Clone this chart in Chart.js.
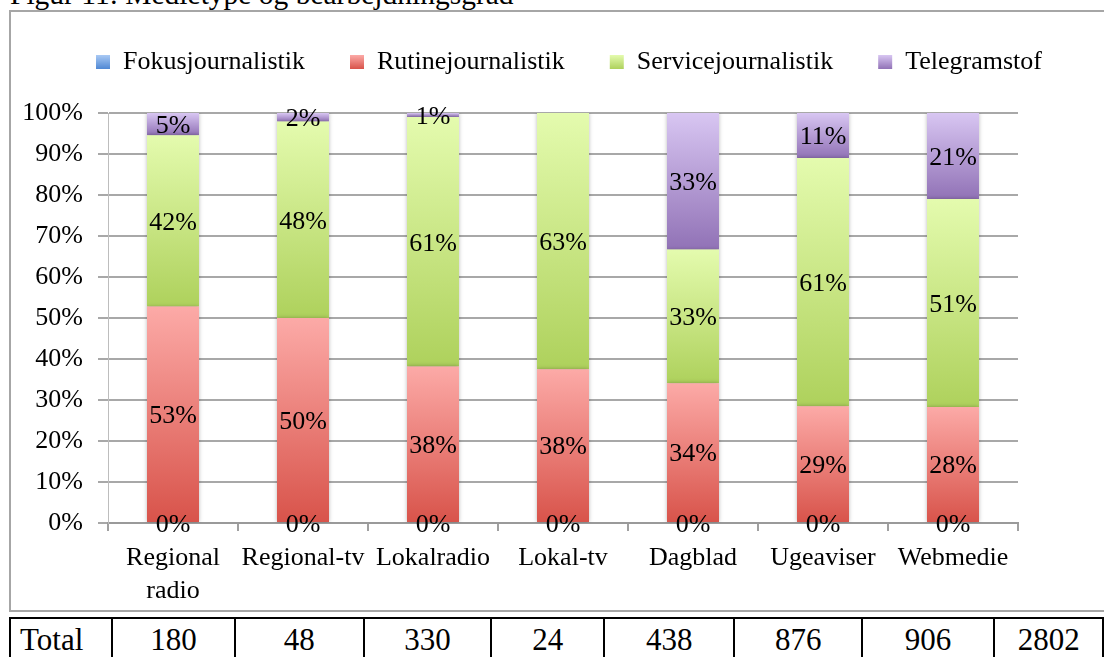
<!DOCTYPE html>
<html><head><meta charset="utf-8">
<script src="https://cdn.jsdelivr.net/npm/chart.js@4"></script>
<style>
html,body{margin:0;padding:0;background:#fff;overflow:hidden;width:1104px;height:657px;}
#title{position:absolute;left:10px;top:-23px;font:29.5px "Liberation Serif";white-space:nowrap;line-height:34px;color:#000}
#frame{position:absolute;left:9px;top:10px;width:1200px;height:598px;border:2px solid #a6a6a6;}
#wrap{position:absolute;left:11px;top:12px;width:1093px;height:598px;}
#tot{position:absolute;left:9px;top:617px;border-collapse:collapse;font:31px "Liberation Serif";table-layout:fixed;color:#000}
#tot td{border:2px solid #000;height:48px;text-align:center;vertical-align:top;padding:5px 0 0 0;line-height:32px;box-sizing:border-box}
#tot td.first{text-align:left;padding-left:9px}
</style>
</head><body>
<div id="title">Figur 11: Medietype og bearbejdningsgrad</div>
<div id="frame"></div>
<div id="wrap"><canvas id="c" width="1093" height="598"></canvas></div>
<table id="tot"><tr id="totrow"></tr></table>
<script>
// ---- data ----
const categories = [['Regional','radio'],'Regional-tv','Lokalradio','Lokal-tv','Dagblad','Ugeaviser','Webmedie'];
const seriesNames = ['Fokusjournalistik','Rutinejournalistik','Servicejournalistik','Telegramstof'];
const fokus    = [0, 0, 0, 0, 0, 0, 0];
const rutine   = [52.8, 50.0, 38.2, 37.5, 34.1, 28.5, 28.3];
const service  = [41.8, 47.9, 60.8, 62.5, 32.6, 60.5, 50.7];
const telegram = [5.4, 2.1, 1.0, null, 33.3, 11.0, 21.0];
const yTickValues = [0,10,20,30,40,50,60,70,80,90,100];
const totalLabel = 'Total';
const totals = [180, 48, 330, 24, 438, 876, 906];
const grandTotal = 2802;

// ---- styling ----
const seriesData = [fokus, rutine, service, telegram];
const gradStops = [['#a9c9f4','#4f88d4'],['#fcaaa7','#d8534a'],['#e4fbae','#aed15c'],['#d8c6f2','#9172b6']];
const FONT = '"Liberation Serif"';
const FS = 26;

function makeBg(d){
  return function(c){
    const chart = c.chart, ctx = chart.ctx, top = gradStops[d][0], bot = gradStops[d][1];
    const ys = chart.scales && chart.scales.y;
    const i = c.dataIndex;
    if (!ys || i === undefined) return bot;
    let base = 0;
    for (let k = 0; k < d; k++) base += (seriesData[k][i] || 0);
    const v = seriesData[d][i] || 0;
    const y1 = ys.getPixelForValue(base + v), y2 = ys.getPixelForValue(base);
    if (!isFinite(y1) || !isFinite(y2) || y2 - y1 < 0.5) return bot;
    const g = ctx.createLinearGradient(0, y1, 0, y2);
    g.addColorStop(0, top); g.addColorStop(1, bot);
    return g;
  };
}

const LEG_PAD = 45, LEG_X = 85, LEG_TEXT_Y = 50, PLOT_TOP = 101, BOX = 14;

const legendFix = {
  id: 'legendFix',
  beforeLayout(chart){
    const lg = chart.legend;
    if (lg && !lg.__patched){
      const f = lg.fit;
      lg.fit = function(){
        const mw = this.maxWidth;
        this.maxWidth = 4000;
        f.call(this);
        this.maxWidth = mw;
        this.width = mw;
        this.height = PLOT_TOP;
      };
      lg.__patched = true;
    }
  },
  afterLayout(chart){
    const lg = chart.legend;
    if (!lg || !lg.lineWidths) return;
    const W = lg.lineWidths[0];
    lg.top = LEG_TEXT_Y - FS/2 - LEG_PAD;
    lg.left = 0;
    lg.right = 2*LEG_X - LEG_PAD + W;
  }
};

const barDeco = {
  id: 'barDeco',
  beforeDatasetsDraw(chart){
    const ctx = chart.ctx;
    ctx.save();
    ctx.shadowColor = 'rgba(0,0,0,0.28)';
    ctx.shadowBlur = 4;
    ctx.shadowOffsetX = 0;
    ctx.shadowOffsetY = 0;
  },
  afterDatasetsDraw(chart){
    const ctx = chart.ctx;
    ctx.restore();
    ctx.save();
    ctx.font = FS + 'px ' + FONT;
    ctx.fillStyle = '#000';
    ctx.textAlign = 'center';
    ctx.textBaseline = 'middle';
    chart.data.datasets.forEach((ds, d) => {
      const meta = chart.getDatasetMeta(d);
      meta.data.forEach((el, i) => {
        const v = ds.data[i];
        if (v === null || v === undefined) return;
        ctx.fillText(Math.round(v) + '%', el.x, (el.y + el.base) / 2 + 2);
      });
    });
    ctx.restore();
  }
};

const datasets = seriesNames.map((name, d) => ({
  label: name,
  data: seriesData[d],
  backgroundColor: makeBg(d),
  borderWidth: 0,
  categoryPercentage: 1.0,
  barPercentage: 0.4
}));

new Chart(document.getElementById('c'), {
  type: 'bar',
  data: { labels: categories, datasets: datasets },
  plugins: [legendFix, barDeco],
  options: {
    responsive: false,
    animation: false,
    devicePixelRatio: 1,
    layout: { padding: { top: 0, left: 0, right: 86, bottom: 0 } },
    plugins: {
      tooltip: { enabled: false },
      legend: {
        display: true,
        position: 'top',
        labels: {
          boxWidth: BOX, boxHeight: BOX, padding: LEG_PAD,
          color: '#000',
          font: { family: FONT, size: FS },
          generateLabels(chart){
            const items = Chart.defaults.plugins.legend.labels.generateLabels(chart);
            const y0 = LEG_TEXT_Y - BOX/2;
            items.forEach((it, k) => {
              const g = chart.ctx.createLinearGradient(0, y0, 0, y0 + BOX);
              g.addColorStop(0, gradStops[k][0]); g.addColorStop(1, gradStops[k][1]);
              it.fillStyle = g; it.strokeStyle = 'rgba(0,0,0,0)'; it.lineWidth = 0;
            });
            return items;
          }
        }
      }
    },
    scales: {
      x: {
        stacked: true,
        afterFit(s){ s.height = 87; },
        grid: { display: true, drawOnChartArea: false, drawTicks: true, tickLength: 8, color: '#a0a0a0', lineWidth: 2, offset: true },
        border: { display: true, color: '#9a9a9a', width: 2 },
        ticks: { color: '#000', font: { family: FONT, size: FS, lineHeight: 1.27 }, padding: 11, maxRotation: 0, autoSkip: false }
      },
      y: {
        stacked: true,
        min: 0, max: 100,
        afterFit(s){ s.width = 97; },
        afterBuildTicks(s){ s.ticks = yTickValues.map(v => ({ value: v })); },
        grid: { color: '#a8a8a8', lineWidth: 2, tickLength: 10, drawTicks: true },
        border: { display: true, color: '#bdbdbd', width: 1 },
        ticks: { color: '#000', font: { family: FONT, size: FS }, padding: 15, callback: v => v + '%' }
      }
    }
  }
});

// ---- totals table ----
const colW = [103, 125, 132, 130, 115, 133, 130, 135, 110];
const row = document.getElementById('totrow');
[totalLabel].concat(totals, [grandTotal]).forEach((t, k) => {
  const td = document.createElement('td');
  td.textContent = t;
  td.style.width = colW[k] + 'px';
  if (k === 0) td.className = 'first';
  row.appendChild(td);
});
</script>
</body></html>
